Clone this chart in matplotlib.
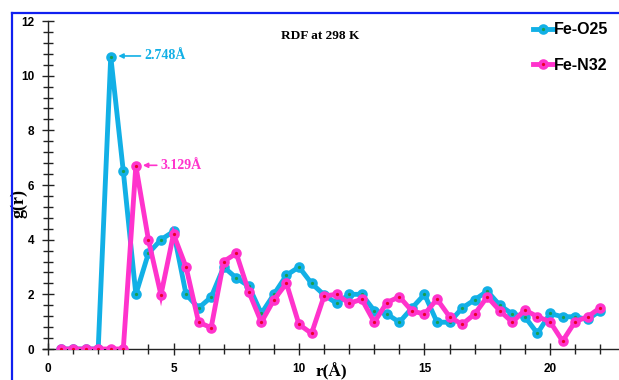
import matplotlib
matplotlib.use("Agg")
import matplotlib.pyplot as plt
from matplotlib.lines import Line2D
from matplotlib.ticker import MultipleLocator

r = [0.5, 1.0, 1.5, 2.0, 2.5, 3.0, 3.5, 4.0, 4.5, 5.0, 5.5, 6.0, 6.5, 7.0, 7.5,
     8.0, 8.5, 9.0, 9.5, 10.0, 10.5, 11.0, 11.5, 12.0, 12.5, 13.0, 13.5, 14.0,
     14.5, 15.0, 15.5, 16.0, 16.5, 17.0, 17.5, 18.0, 18.5, 19.0, 19.5, 20.0,
     20.5, 21.0, 21.5, 22.0]
fe_o25 = [0, 0, 0, 0, 10.7, 6.5, 2.0, 3.5, 4.0, 4.3, 2.0, 1.5, 1.9, 3.0, 2.6,
          2.3, 1.3, 2.0, 2.7, 3.0, 2.4, 1.98, 1.67, 2.0, 2.0, 1.4, 1.28, 0.98,
          1.5, 2.0, 0.98, 0.98, 1.5, 1.8, 2.12, 1.6, 1.28, 1.18, 0.57, 1.3,
          1.18, 1.18, 1.08, 1.4]
fe_n32 = [0, 0, 0, 0, 0, 0, 6.7, 4.0, 1.98, 4.2, 3.0, 0.98, 0.78, 3.2, 3.5,
          2.09, 0.98, 1.8, 2.4, 0.9, 0.57, 1.94, 2.0, 1.67, 1.82, 0.98, 1.7,
          1.91, 1.39, 1.28, 1.82, 1.18, 0.9, 1.28, 1.91, 1.4, 0.98, 1.43, 1.18,
          1.0, 0.29, 1.0, 1.18, 1.51]
labels = ["Fe-O25", "Fe-N32"]
title = "RDF at 298 K"
peak_o = "2.748Å"
peak_n = "3.129Å"

cyan = "#12B0E6"
cyan_c = "#1A9E4E"
mag = "#FF33CC"
mag_c = "#E8002A"

W, H = 619, 380
fig = plt.figure(figsize=(W / 100, H / 100), dpi=100)
ax = fig.add_axes([48 / W, 1 - 349 / H, 1 - 48 / W, (349 - 21) / H])

ax.plot(r, fe_o25, color=cyan, lw=3.5, marker="o", ms=5.0, mfc=cyan_c,
        mec=cyan, mew=2.6, label=labels[0], zorder=3, solid_joinstyle="miter")
ax.plot(r, fe_n32, color=mag, lw=3.5, marker="o", ms=5.0, mfc=mag_c,
        mec=mag, mew=2.6, label=labels[1], zorder=4, solid_joinstyle="miter")

ax.set_xlim(0, (W - 48) / 25.1)
ax.set_ylim(0, 12)
for s in ["top", "right"]:
    ax.spines[s].set_visible(False)
for s in ["left", "bottom"]:
    ax.spines[s].set_color("#222222")
    ax.spines[s].set_linewidth(1.0)
ax.spines["bottom"].set_bounds(-0.2, (W - 48) / 25.1)

ax.xaxis.set_major_locator(MultipleLocator(5))
ax.xaxis.set_minor_locator(MultipleLocator(1))
ax.yaxis.set_major_locator(MultipleLocator(2))
ax.yaxis.set_minor_locator(MultipleLocator(0.4))
ax.tick_params(which="both", direction="inout", color="#222222", width=1.0)
ax.tick_params(which="major", length=8, labelsize=8.5)
ax.tick_params(which="minor", length=6.5)
for lab in ax.get_xticklabels() + ax.get_yticklabels():
    lab.set_fontfamily("Liberation Sans")
    lab.set_fontweight("bold")
ax.tick_params(axis="y", pad=6)
ax.tick_params(axis="x", pad=6)

ax.set_xlabel("r(Å)", fontfamily="Liberation Serif", fontweight="bold",
              fontsize=12.5)
ax.xaxis.set_label_coords((331 - 48) / (W - 48), (349 - 380) / (349 - 21),
                          transform=ax.transAxes)
ax.xaxis.label.set_va("bottom")
ax.set_ylabel("g(r)", fontfamily="Liberation Serif", fontweight="bold",
              fontsize=13)
ax.yaxis.set_label_coords((27 - 48) / (W - 48), (349 - 203) / (349 - 21))

ax.text((320 - 48) / (W - 48), (349 - 36) / (349 - 21), title,
        transform=ax.transAxes, ha="center", va="center",
        fontfamily="Liberation Serif", fontweight="bold", fontsize=9.5)

ax.annotate(peak_o, xy=(2.5 + 0.3, 10.7 + 0.02), xytext=(3.85, 10.72),
            color=cyan, fontsize=10, fontweight="bold",
            fontfamily="Liberation Serif", va="center", ha="left",
            arrowprops=dict(arrowstyle="-|>", color=cyan, lw=1.2,
                            mutation_scale=7, shrinkA=1, shrinkB=0))
ax.annotate(peak_n, xy=(3.5 + 0.28, 6.72), xytext=(4.5, 6.72),
            color=mag, fontsize=10, fontweight="bold",
            fontfamily="Liberation Serif", va="center", ha="left",
            arrowprops=dict(arrowstyle="-|>", color=mag, lw=1.2,
                            mutation_scale=7, shrinkA=1, shrinkB=0))

leg = ax.legend(loc="upper right", bbox_to_anchor=(1.0 + 4 / (W - 48), 1.04),
                frameon=False, handlelength=1.2, handletextpad=0.1,
                labelspacing=1.3, markerscale=1.0,
                prop={"family": "Liberation Sans", "weight": "bold", "size": 11.5})

# blue outer frame (top and left edges)
fig.add_artist(Line2D([12 / W, 1.0], [1 - 13 / H, 1 - 13 / H],
                      transform=fig.transFigure, color="#1020F0", lw=1.6))
fig.add_artist(Line2D([12 / W, 12 / W], [0, 1 - 13 / H],
                      transform=fig.transFigure, color="#1020F0", lw=1.6))

fig.savefig("out.png", dpi=100)
